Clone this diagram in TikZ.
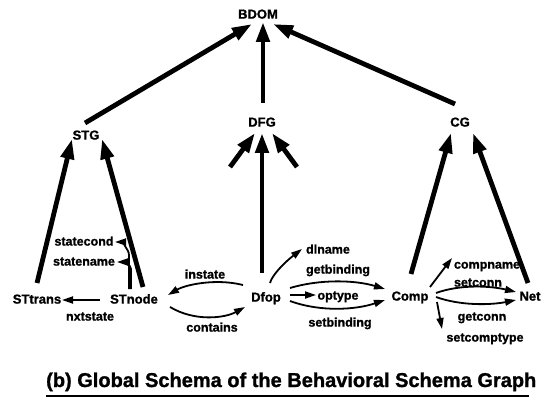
\documentclass[tikz,border=0pt]{standalone}
\usepackage{fontspec}
\setmainfont{Liberation Sans}[BoldFeatures={FakeBold=1.2}]
\usetikzlibrary{arrows.meta,calc}
\begin{document}
\begin{tikzpicture}[x=1pt,y=-1pt,
  nm/.style={font=\bfseries\fontsize{13}{13}\selectfont, inner sep=0pt, text height=0.72em, text depth=0pt},
  lb/.style={font=\bfseries\fontsize{12.5}{12.5}\selectfont, inner sep=0pt, text height=0.72em, text depth=0pt},
  big/.style={line width=4.8pt, -{Triangle[length=20pt,width=13pt]}},
  sm/.style={line width=1.8pt, -{Triangle[length=11pt,width=7pt]}},
]
\useasboundingbox (0,0) rectangle (543,398);

% schema nodes
\node[nm] (BDOM) at (258,15) {BDOM};
\node[nm] (STG) at (86,136) {STG};
\node[nm] (DFG) at (262,123) {DFG};
\node[nm] (CG) at (460,123) {CG};
\node[nm] (STtrans) at (37,300) {STtrans};
\node[nm] (STnode) at (134,300) {STnode};
\node[nm] (Dfop) at (266,298) {Dfop};
\node[nm] (Comp) at (410,297) {Comp};
\node[nm] (Net) at (530,297) {Net};

% attribute and relation names
\node[lb] (statecond) at (84,242) {statecond};
\node[lb] (statename) at (84,262) {statename};
\node[lb] (nxtstate) at (90,317) {nxtstate};
\node[lb] (instate) at (205,275) {instate};
\node[lb] (contains) at (212,328) {contains};
\node[lb] (dlname) at (328,250) {dlname};
\node[lb] (getbinding) at (338,270) {getbinding};
\node[lb] (optype) at (338,296) {optype};
\node[lb] (setbinding) at (340,323) {setbinding};
\node[lb] (compname) at (487,265) {compname};
\node[lb] (setconn) at (478,283) {setconn};
\node[lb] (getconn) at (482,317) {getconn};
\node[lb] (setcomptype) at (485,338) {setcomptype};

% is-a hierarchy
\draw[big] ($(STG)+(-1,-13)$) -- ($(BDOM)+(-6,9)$);
\draw[big] ($(DFG)+(1,-20)$) -- ($(BDOM)+(5,7)$);
\draw[big] ($(CG)+(-5,-19)$) -- ($(BDOM)+(15,9)$);
\draw[big] ($(STtrans)+(0,-17)$) -- ($(STG)+(-14,3)$);
\draw[big] ($(STnode)+(9,-13)$) -- ($(STG)+(16,3)$);
\draw[big] ($(Dfop)+(-4,-25)$) -- ($(DFG)+(0,10)$);
\coordinate (stubL) at ($(DFG)+(-32,44)$);
\coordinate (stubR) at ($(DFG)+(35,44)$);
\draw[big] (stubL) -- ($(DFG)+(-7,10)$);
\draw[big] (stubR) -- ($(DFG)+(10,10)$);
\draw[big] ($(Comp)+(1,-23)$) -- ($(CG)+(-9,10)$);
\draw[big] ($(Net)+(-2,-14)$) -- ($(CG)+(13,10)$);

% attributes and relations
\draw[sm] ($(STnode)+(-34,0)$) -- ($(STtrans)+(25,0)$);
\draw[sm] ($(STnode)+(-5,-11)$) -- ++(0,-34) .. controls +(0,-6) and +(5,0) .. ($(statecond)+(31,0)$);
\draw[sm] ($(STnode)+(-3,-11)$) -- ++(0,-20) .. controls +(0,-5) and +(5,0) .. ($(statename)+(33,0)$);
\draw[sm] ($(Dfop)+(-23,-13)$) .. controls +(-28,-7) and +(17,-10) .. ($(STnode)+(34,-5)$);
\draw[sm] ($(STnode)+(36,7)$) .. controls +(25,15) and +(-20,11) .. ($(Dfop)+(-21,9)$);
\draw[sm] ($(Dfop)+(4,-15)$) .. controls +(2,-8) and +(-17,13) .. ($(dlname)+(-26,-1)$);
\draw[sm] ($(Dfop)+(24,-10)$) .. controls +(30,-9) and +(-30,-9) .. ($(Comp)+(-25,-8)$);
\draw[sm] ($(Dfop)+(24,-3)$) -- ($(optype)+(-22,-1)$);
\draw[sm] ($(Dfop)+(24,3)$) .. controls +(30,11) and +(-30,10) .. ($(Comp)+(-25,3)$);
\draw[sm] ($(Comp)+(20,-10)$) -- ($(compname)+(-35,-7)$);
\draw[sm] ($(Comp)+(26,-4)$) .. controls +(25,-9) and +(-25,-6) .. ($(Net)+(-14,-5)$);
\draw[sm] ($(Comp)+(26,0)$) .. controls +(25,9) and +(-25,5) .. ($(Net)+(-14,3)$);
\draw[sm] ($(Comp)+(27,5)$) -- ($(setcomptype)+(-43,-9)$);

% caption
\node[font=\bfseries\fontsize{20}{20}\selectfont, inner sep=0pt, anchor=base west] (cap) at (46,387) {(b) Global Schema of the Behavioral Schema Graph};
\draw[line width=1.4pt] ($(cap.base west)+(0,9)$) -- ($(cap.base east)+(-8,9)$);
\end{tikzpicture}
\end{document}
